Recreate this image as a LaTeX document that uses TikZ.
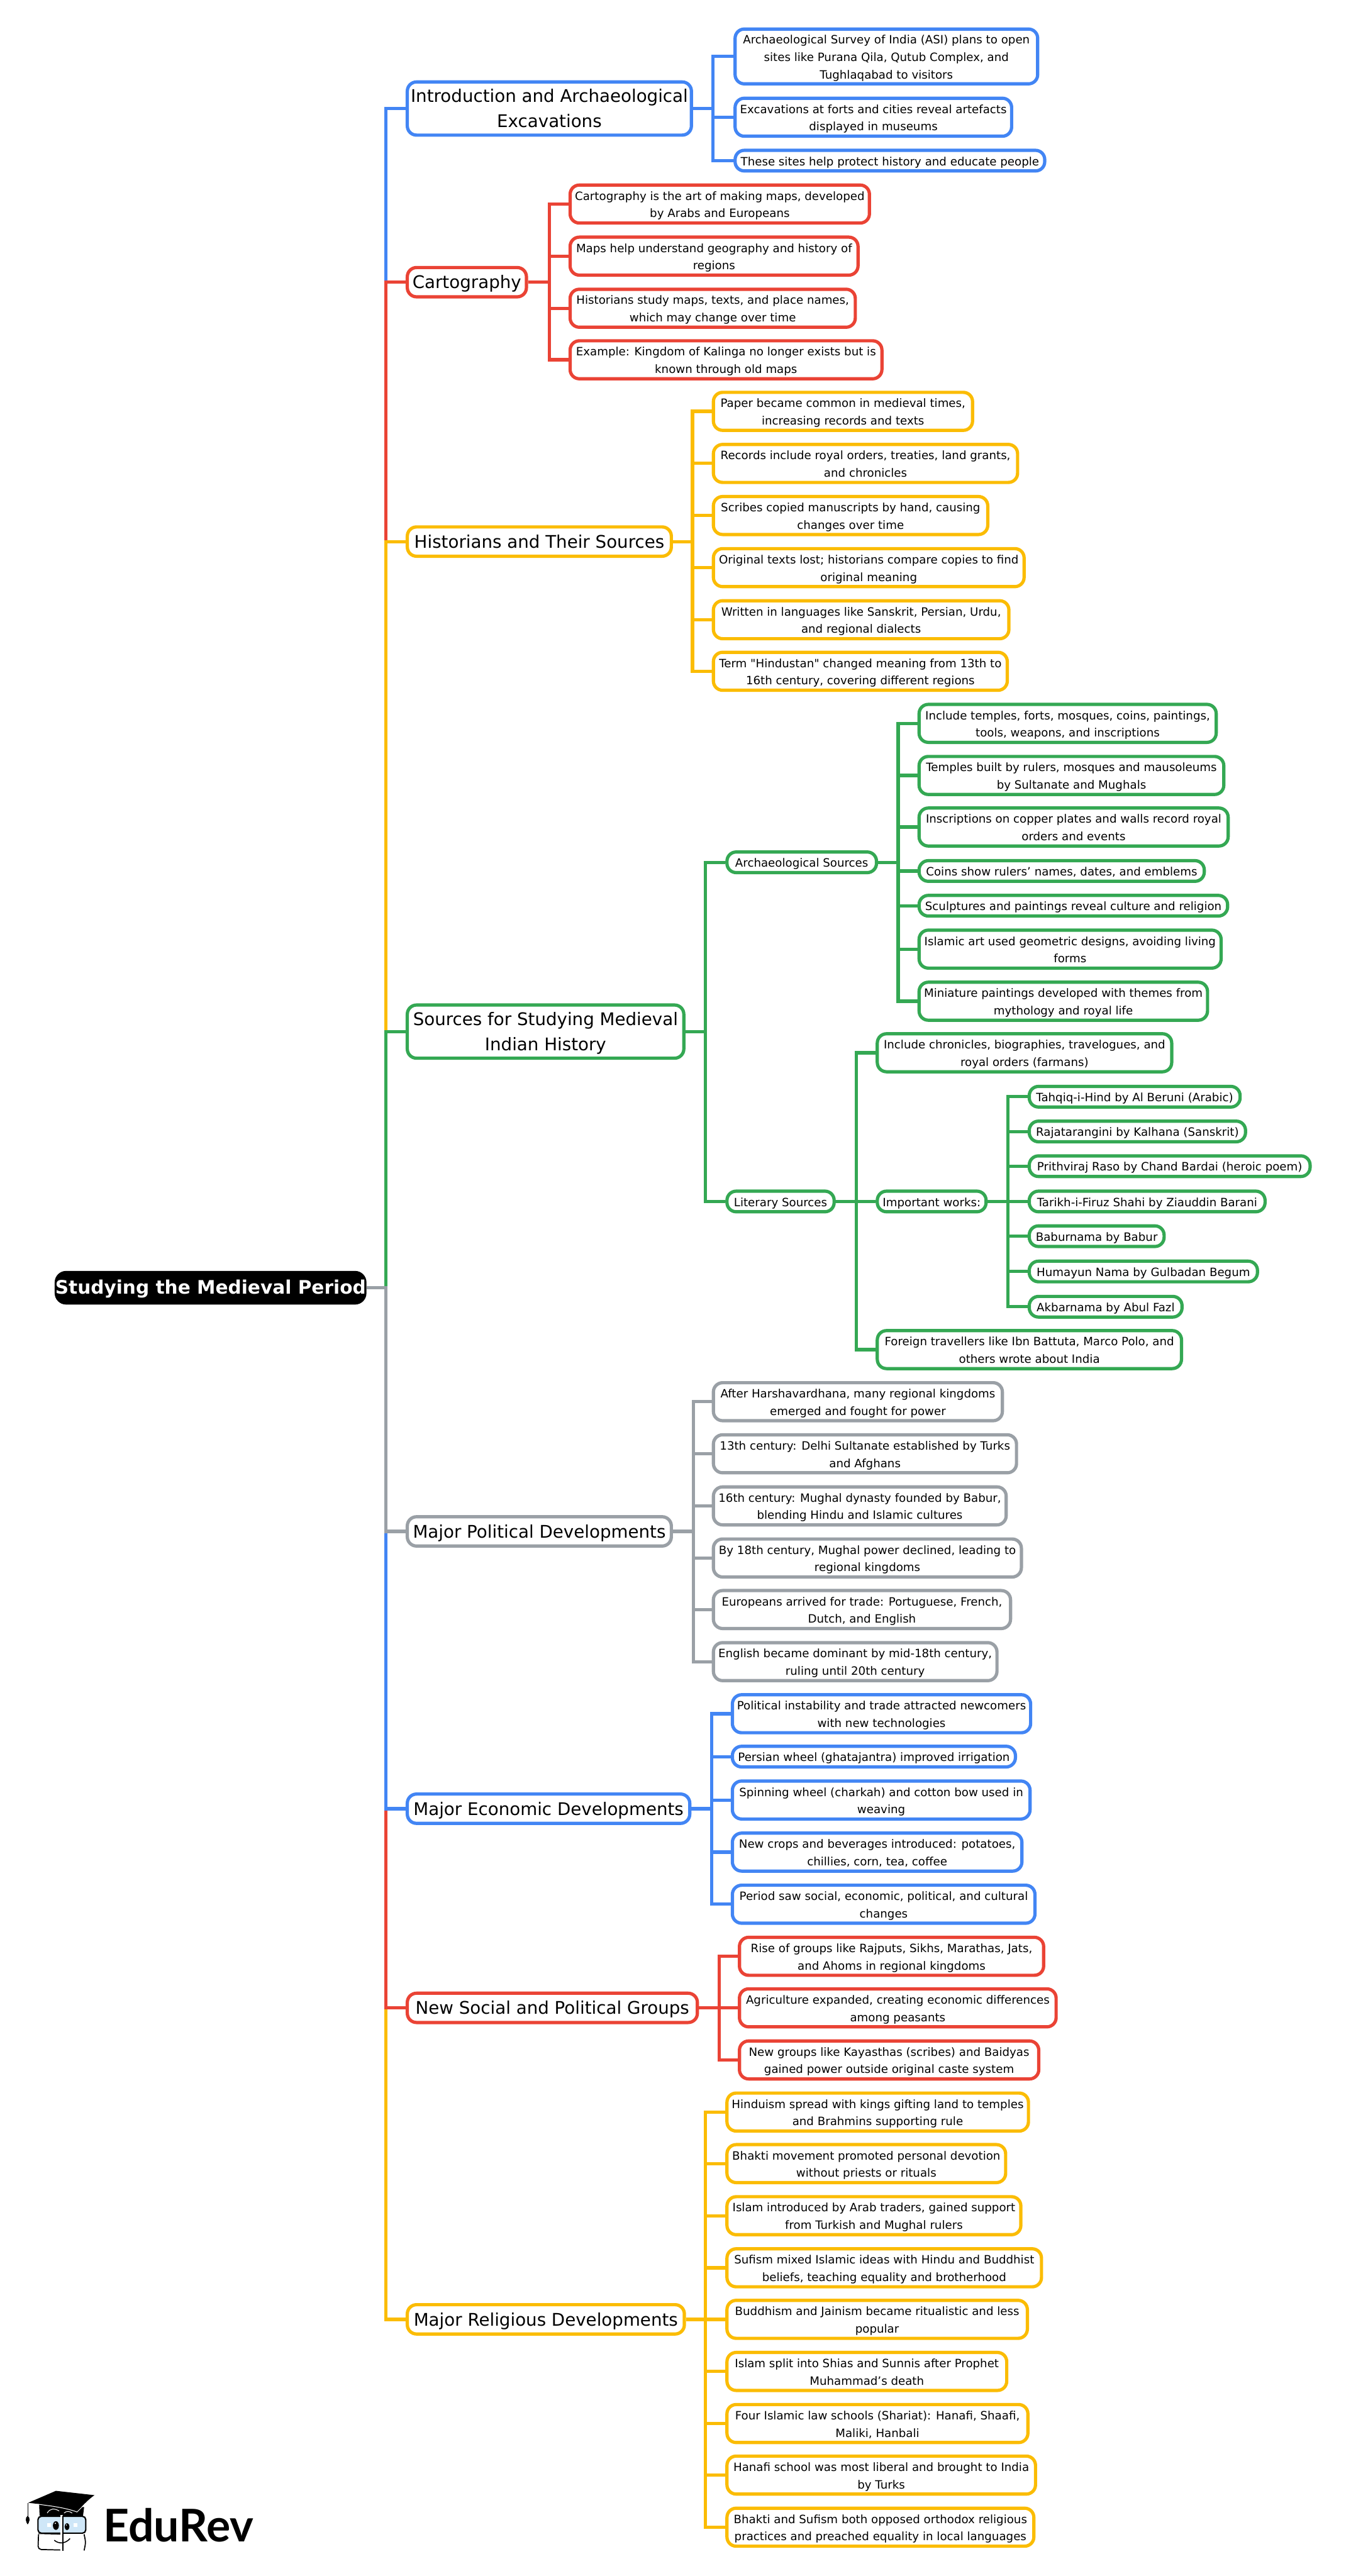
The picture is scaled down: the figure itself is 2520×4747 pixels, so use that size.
\documentclass[tikz,border=0pt]{standalone}
\usepackage{fontspec}
\newfontfamily\djv{DejaVu Sans}
\newfontfamily\djb{DejaVu Sans Bold}
\newfontfamily\lto{Lato Bold}
\definecolor{cblue}{HTML}{4285F4}
\definecolor{cred}{HTML}{EA4335}
\definecolor{cyel}{HTML}{FBBC04}
\definecolor{cgrn}{HTML}{34A853}
\definecolor{cgry}{HTML}{9AA0A6}
\definecolor{cglass}{HTML}{CFE7F8}
\tikzset{
  box/.style={draw=#1, fill=white, line width=6pt, rounded corners=17pt, inner sep=0pt, align=center, text=black},
  leaf/.style={box=#1, font=\djv\fontsize{21.1}{32}\selectfont},
  head/.style={box=#1, font=\djv\fontsize{32.1}{46.5}\selectfont},
  rootbox/.style={draw=black, fill=black, line width=2pt, rounded corners=20pt, inner sep=0pt, align=center, text=white, font=\djb\fontsize{34.3}{46}\selectfont},
  lnk/.style={line width=6pt, line cap=butt, line join=miter},
}
\newcommand{\tstrut}{\rule{0pt}{\dimexpr\ht\strutbox+5pt\relax}}
% [style]{name}{x1}{x2}{cy}{h}{text}
\newcommand{\nd}[7][]{\node[#1, minimum width={(#4-#3-4.5)*1pt}, minimum height={(#6-6)*1pt}] (#2) at ({(#3+#4-1.5)/2},#5) {\tstrut #7\strut};}
% {colour}{spine x}{parent}{children}
\newcommand{\br}[4]{\coordinate (sp#3) at (#2,0);
  \foreach \c in {#4} {\draw[lnk,draw=#1] (#3.east) -- (sp#3 |- #3.east) -- (sp#3 |- \c.west) -- (\c.west);}}
\begin{document}
\begin{tikzpicture}[x=1pt,y=-1pt]
\useasboundingbox (0,0) rectangle (2520,4747);
% root
\node[rootbox, minimum width=572pt, minimum height=60pt] (root) at (388,2373) {\tstrut Studying the Medieval Period\strut};
% headings
\nd[head=cblue]{hintro}{749}{1277}{200}{104}{Introduction and Archaeological\\Excavations}
\nd[head=cred]{hcart}{749}{973}{520}{60}{Cartography}
\nd[head=cyel]{hhist}{749}{1240}{998}{60}{Historians and Their Sources}
\nd[head=cgrn]{hsrc}{749}{1263}{1901}{104}{Sources for Studying Medieval\\Indian History}
\nd[head=cgry]{hpol}{749}{1240}{2822}{60}{Major Political Developments}
\nd[head=cblue]{heco}{749}{1274}{3333}{60}{Major Economic Developments}
\nd[head=cred]{hsoc}{749}{1288}{3700}{60}{New Social and Political Groups}
\nd[head=cyel]{hrel}{749}{1264}{4274}{60}{Major Religious Developments}
% intro
\nd[leaf=cblue]{a1}{1353}{1915}{104}{107}{Archaeological Survey of India (ASI) plans to open\\sites like Purana Qila, Qutub Complex, and\\Tughlaqabad to visitors}
\nd[leaf=cblue]{a2}{1353}{1867}{216}{76}{Excavations at forts and cities reveal artefacts\\displayed in museums}
\nd[leaf=cblue]{a3}{1353}{1928}{296}{44}{These sites help protect history and educate people}
% cartography
\nd[leaf=cred]{c1}{1049}{1605}{376}{76}{Cartography is the art of making maps, developed\\by Arabs and Europeans}
\nd[leaf=cred]{c2}{1049}{1584}{472}{76}{Maps help understand geography and history of\\regions}
\nd[leaf=cred]{c3}{1049}{1579}{568}{76}{Historians study maps, texts, and place names,\\which may change over time}
\nd[leaf=cred]{c4}{1049}{1628}{663}{76}{Example: Kingdom of Kalinga no longer exists but is\\known through old maps}
% historians
\nd[leaf=cyel]{h1}{1313}{1795}{758}{76}{Paper became common in medieval times,\\increasing records and texts}
\nd[leaf=cyel]{h2}{1313}{1878}{854}{76}{Records include royal orders, treaties, land grants,\\and chronicles}
\nd[leaf=cyel]{h3}{1313}{1823}{950}{76}{Scribes copied manuscripts by hand, causing\\changes over time}
\nd[leaf=cyel]{h4}{1313}{1890}{1046}{76}{Original texts lost; historians compare copies to find\\original meaning}
\nd[leaf=cyel]{h5}{1313}{1862}{1142}{76}{Written in languages like Sanskrit, Persian, Urdu,\\and regional dialects}
\nd[leaf=cyel]{h6}{1313}{1859}{1237}{76}{Term "Hindustan" changed meaning from 13th to\\16th century, covering different regions}
% sources
\nd[leaf=cgrn]{sa}{1338}{1618}{1589}{44}{Archaeological Sources}
\nd[leaf=cgrn]{sl}{1338}{1540}{2214}{44}{Literary Sources}
\nd[leaf=cgrn]{s1}{1692}{2244}{1333}{76}{Include temples, forts, mosques, coins, paintings,\\tools, weapons, and inscriptions}
\nd[leaf=cgrn]{s2}{1692}{2258}{1429}{76}{Temples built by rulers, mosques and mausoleums\\by Sultanate and Mughals}
\nd[leaf=cgrn]{s3}{1692}{2266}{1524}{76}{Inscriptions on copper plates and walls record royal\\orders and events}
\nd[leaf=cgrn]{s4}{1692}{2222}{1605}{44}{Coins show rulers’ names, dates, and emblems}
\nd[leaf=cgrn]{s5}{1692}{2265}{1669}{44}{Sculptures and paintings reveal culture and religion}
\nd[leaf=cgrn]{s6}{1692}{2253}{1749}{76}{Islamic art used geometric designs, avoiding living\\forms}
\nd[leaf=cgrn]{s7}{1692}{2228}{1845}{76}{Miniature paintings developed with themes from\\mythology and royal life}
\nd[leaf=cgrn]{l1}{1615}{2162}{1940}{76}{Include chronicles, biographies, travelogues, and\\royal orders (farmans)}
\nd[leaf=cgrn]{l2}{1615}{1820}{2214}{44}{Important works:}
\nd[leaf=cgrn]{l3}{1615}{2180}{2487}{76}{Foreign travellers like Ibn Battuta, Marco Polo, and\\others wrote about India}
\nd[leaf=cgrn]{t1}{1895}{2288}{2021}{44}{Tahqiq-i-Hind by Al Beruni (Arabic)}
\nd[leaf=cgrn]{t2}{1895}{2298}{2085}{44}{Rajatarangini by Kalhana (Sanskrit)}
\nd[leaf=cgrn]{t3}{1895}{2417}{2149}{44}{Prithviraj Raso by Chand Bardai (heroic poem)}
\nd[leaf=cgrn]{t4}{1895}{2334}{2214}{44}{Tarikh-i-Firuz Shahi by Ziauddin Barani}
\nd[leaf=cgrn]{t5}{1895}{2148}{2278}{44}{Baburnama by Babur}
\nd[leaf=cgrn]{t6}{1895}{2320}{2343}{44}{Humayun Nama by Gulbadan Begum}
\nd[leaf=cgrn]{t7}{1895}{2181}{2408}{44}{Akbarnama by Abul Fazl}
% political
\nd[leaf=cgry]{p1}{1313}{1850}{2583}{76}{After Harshavardhana, many regional kingdoms\\emerged and fought for power}
\nd[leaf=cgry]{p2}{1313}{1876}{2679}{76}{13th century: Delhi Sultanate established by Turks\\and Afghans}
\nd[leaf=cgry]{p3}{1313}{1857}{2775}{76}{16th century: Mughal dynasty founded by Babur,\\blending Hindu and Islamic cultures}
\nd[leaf=cgry]{p4}{1313}{1885}{2871}{76}{By 18th century, Mughal power declined, leading to\\regional kingdoms}
\nd[leaf=cgry]{p5}{1313}{1865}{2966}{76}{Europeans arrived for trade: Portuguese, French,\\Dutch, and English}
\nd[leaf=cgry]{p6}{1313}{1840}{3062}{76}{English became dominant by mid-18th century,\\ruling until 20th century}
% economic
\nd[leaf=cblue]{e1}{1348}{1902}{3158}{76}{Political instability and trade attracted newcomers\\with new technologies}
\nd[leaf=cblue]{e2}{1348}{1874}{3237}{44}{Persian wheel (ghatajantra) improved irrigation}
\nd[leaf=cblue]{e3}{1348}{1901}{3317}{76}{Spinning wheel (charkah) and cotton bow used in\\weaving}
\nd[leaf=cblue]{e4}{1348}{1886}{3413}{76}{New crops and beverages introduced: potatoes,\\chillies, corn, tea, coffee}
\nd[leaf=cblue]{e5}{1348}{1910}{3509}{76}{Period saw social, economic, political, and cultural\\changes}
% social
\nd[leaf=cred]{g1}{1361}{1926}{3605}{76}{Rise of groups like Rajputs, Sikhs, Marathas, Jats,\\and Ahoms in regional kingdoms}
\nd[leaf=cred]{g2}{1361}{1949}{3700}{76}{Agriculture expanded, creating economic differences\\among peasants}
\nd[leaf=cred]{g3}{1361}{1917}{3796}{76}{New groups like Kayasthas (scribes) and Baidyas\\gained power outside original caste system}
% religious
\nd[leaf=cyel]{r1}{1338}{1898}{3892}{76}{Hinduism spread with kings gifting land to temples\\and Brahmins supporting rule}
\nd[leaf=cyel]{r2}{1338}{1856}{3987}{76}{Bhakti movement promoted personal devotion\\without priests or rituals}
\nd[leaf=cyel]{r3}{1338}{1884}{4083}{76}{Islam introduced by Arab traders, gained support\\from Turkish and Mughal rulers}
\nd[leaf=cyel]{r4}{1338}{1922}{4179}{76}{Sufism mixed Islamic ideas with Hindu and Buddhist\\beliefs, teaching equality and brotherhood}
\nd[leaf=cyel]{r5}{1338}{1896}{4274}{76}{Buddhism and Jainism became ritualistic and less\\popular}
\nd[leaf=cyel]{r6}{1338}{1858}{4370}{76}{Islam split into Shias and Sunnis after Prophet\\Muhammad’s death}
\nd[leaf=cyel]{r7}{1338}{1897}{4466}{76}{Four Islamic law schools (Shariat): Hanafi, Shaafi,\\Maliki, Hanbali}
\nd[leaf=cyel]{r8}{1338}{1911}{4561}{76}{Hanafi school was most liberal and brought to India\\by Turks}
\nd[leaf=cyel]{r9}{1338}{1908}{4657}{76}{Bhakti and Sufism both opposed orthodox religious\\practices and preached equality in local languages}
% connectors: trunk
\br{cblue}{711}{root}{hintro}
\br{cred}{711}{root}{hcart}
\br{cyel}{711}{root}{hhist}
\br{cgrn}{711}{root}{hsrc}
\br{cyel}{711}{root}{hrel}
\br{cred}{711}{root}{hsoc}
\br{cblue}{711}{root}{heco}
\br{cgry}{711}{root}{hpol}
% connectors: branches
\br{cblue}{1314}{hintro}{a1,a2,a3}
\br{cred}{1012}{hcart}{c1,c2,c3,c4}
\br{cyel}{1276}{hhist}{h1,h2,h3,h4,h5,h6}
\br{cgrn}{1300}{hsrc}{sa,sl}
\br{cgrn}{1655}{sa}{s1,s2,s3,s4,s5,s6,s7}
\br{cgrn}{1578}{sl}{l1,l2,l3}
\br{cgrn}{1857}{l2}{t1,t2,t3,t4,t5,t6,t7}
\br{cgry}{1278}{hpol}{p1,p2,p3,p4,p5,p6}
\br{cblue}{1311}{heco}{e1,e2,e3,e4,e5}
\br{cred}{1325}{hsoc}{g1,g2,g3}
\br{cyel}{1300}{hrel}{r1,r2,r3,r4,r5,r6,r7,r8,r9}
% logo
\fill[black] (72,4613) -- (155,4620) -- (153,4636) -- (73,4636) -- cycle;
\fill[black] (52,4612) -- (103,4590) -- (174,4598) .. controls (160,4608) and (150,4620) .. (142,4628) .. controls (120,4618) and (85,4616) .. (52,4612) -- cycle;
\draw[white, line width=1.2pt] (72,4615) .. controls (95,4618) and (120,4621) .. (142,4629) -- (155,4616);
\draw[black, line width=1.5pt] (51.5,4612) -- (51.5,4638);
\fill[black] (51,4636) .. controls (45,4640) and (48,4648) .. (51,4652) .. controls (54,4648) and (57,4640) .. (51,4636) -- cycle;
\draw[white, line width=1.2pt] (87,4631) .. controls (92,4622) and (100,4622) .. (109,4627);
\draw[white, line width=1.2pt] (118,4631) .. controls (122,4627) and (128,4627) .. (133,4631);
\draw[black, fill=cglass, line width=2.5pt, rounded corners=6pt] (70,4637) rectangle (158,4668);
\draw[black, line width=2pt, rounded corners=6pt] (71,4670) -- (70,4698) -- (111,4699);
\draw[black, line width=2pt, rounded corners=6pt] (155,4670) -- (158,4685) -- (155,4700);
\fill[white] (111.5,4634) rectangle (116,4701);
\draw[black, line width=2pt] (115.5,4636) -- (115.5,4701);
\draw[black, line width=1.2pt] (111,4670) -- (71,4669);
\fill[black] (103,4654) ellipse [x radius=5.5pt, y radius=8pt];
\fill[black] (123.5,4656) ellipse [x radius=4.5pt, y radius=6.5pt];
\fill[white] (102,4650) circle [radius=1.3pt];
\fill[white] (122.5,4653) circle [radius=1.1pt];
\fill[white] (87,4650) rectangle (94,4656);
\fill[white] (136,4650) rectangle (143,4656);
\draw[black, line width=1.8pt] (100,4681) .. controls (108,4688) and (120,4688) .. (129,4678);
\node[anchor=base west, inner sep=0pt, font=\lto\fontsize{83}{83}\selectfont, text=black] (brand) at (190,4684) {EduRev};
\end{tikzpicture}
\end{document}
